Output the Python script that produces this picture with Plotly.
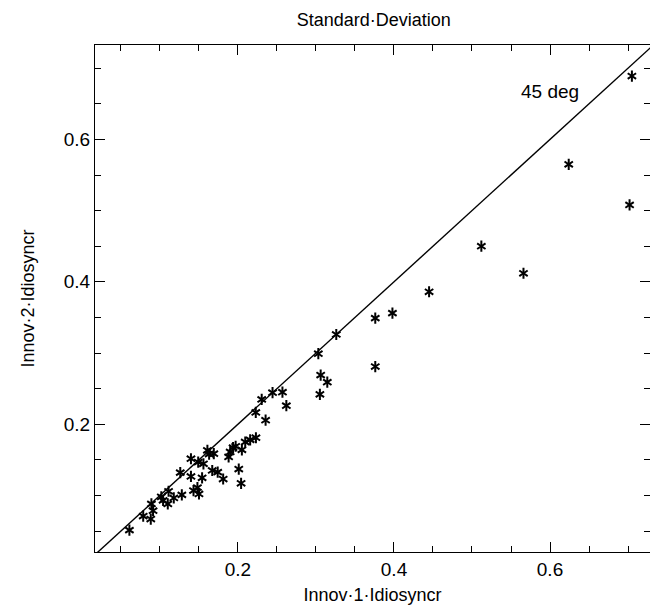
import plotly.graph_objects as go

# Standard deviation of idiosyncratic innovations: series 1 (x) vs series 2 (y)
innov1 = [0.705, 0.624, 0.702, 0.512, 0.566, 0.445, 0.398, 0.376, 0.376, 0.326,
          0.303, 0.306, 0.3145, 0.305, 0.257,
          0.0608, 0.0785, 0.0882, 0.0911, 0.089, 0.1017, 0.111, 0.110, 0.104,
          0.1177, 0.128, 0.126, 0.1397, 0.1397, 0.154, 0.143, 0.148, 0.150,
          0.149, 0.1557, 0.1608, 0.163, 0.169, 0.167, 0.174, 0.181, 0.188,
          0.190, 0.1937, 0.197, 0.201, 0.204, 0.205, 0.2093, 0.2156, 0.223,
          0.2228, 0.2354, 0.2304, 0.2443, 0.262]
innov2 = [0.689, 0.565, 0.508, 0.450, 0.412, 0.386, 0.356, 0.349, 0.281, 0.326,
          0.299, 0.269, 0.259, 0.242, 0.245,
          0.0512, 0.071, 0.0668, 0.0785, 0.088, 0.098, 0.1058, 0.088, 0.093,
          0.0964, 0.1007, 0.132, 0.1266, 0.1515, 0.1247, 0.1068, 0.111, 0.102,
          0.1468, 0.1444, 0.1633, 0.158, 0.1586, 0.135, 0.1327, 0.123, 0.154,
          0.161, 0.167, 0.169, 0.137, 0.117, 0.164, 0.175, 0.178, 0.181,
          0.2165, 0.2056, 0.2348, 0.2443, 0.226]

diag = [0.0, 0.75]
x_range = [0.0167, 0.7282]
y_range = [0.0205, 0.7326]
tick_vals = [0.2, 0.4, 0.6]
tick_text = ["0.2", "0.4", "0.6"]

FONT = "Liberation Sans, Arial, Helvetica, sans-serif"

fig = go.Figure()
fig.add_trace(go.Scatter(x=diag, y=diag, mode="lines",
                         line=dict(color="black", width=1.4),
                         hoverinfo="skip", showlegend=False))
for sym in ["y-up-open", "y-down-open"]:
    fig.add_trace(go.Scatter(x=innov1, y=innov2, mode="markers",
                             marker=dict(symbol=sym, size=7,
                                         line=dict(color="black", width=2),
                                         color="black"),
                             showlegend=False))

fig.add_annotation(x=0.6, y=0.667, text="45 deg", showarrow=False,
                   font=dict(family=FONT, size=19, color="black"))

axis_common = dict(
    showgrid=False, zeroline=False, showline=True, linecolor="black",
    linewidth=1, mirror="allticks", ticks="inside", ticklen=10,
    tickwidth=1, tickcolor="black",
    tickfont=dict(family=FONT, size=19, color="black"),
    tickmode="array", tickvals=tick_vals, ticktext=tick_text,
    minor=dict(ticks="inside", ticklen=6, tickwidth=1, tickcolor="black",
               dtick=0.05, tick0=0, showgrid=False),
)

fig.update_layout(
    width=650, height=611,
    margin=dict(l=95, r=0, t=45, b=59),
    paper_bgcolor="white", plot_bgcolor="white",
    title=dict(text="Standard·Deviation", x=0.575, xanchor="center",
               y=0.967, yanchor="middle",
               font=dict(family=FONT, size=18, color="black")),
    xaxis=dict(range=x_range,
               title=dict(text="Innov·1·Idiosyncr", standoff=9,
                          font=dict(family=FONT, size=18, color="black")),
               **axis_common),
    yaxis=dict(range=y_range,
               title=dict(text="Innov·2·Idiosyncr", standoff=24,
                          font=dict(family=FONT, size=18, color="black")),
               **axis_common),
)

fig.write_html("out.html")
